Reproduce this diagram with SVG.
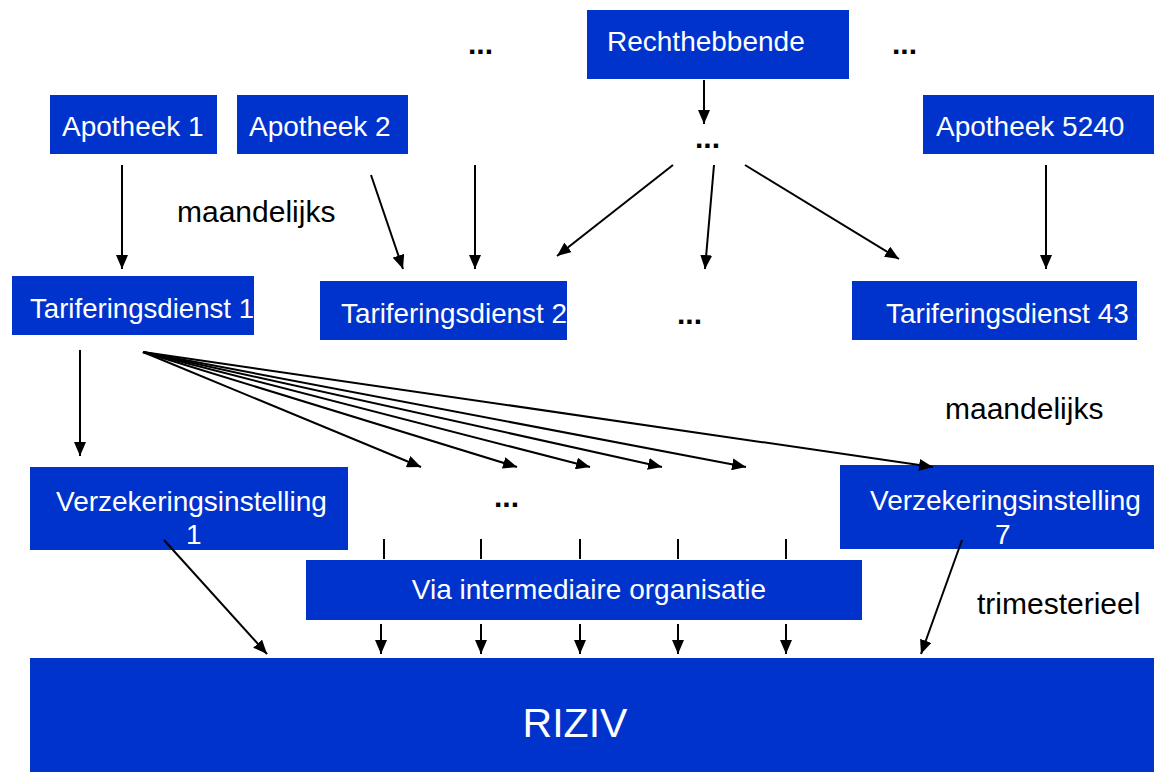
<svg xmlns="http://www.w3.org/2000/svg" width="1154" height="772" viewBox="0 0 1154 772">
<style>
.box{fill:#0033cc;}
.bt{fill:#ffffff;font-family:"Liberation Sans",Arial,sans-serif;font-size:28px;}
.lbl{fill:#000000;font-family:"Liberation Sans",Arial,sans-serif;font-size:30px;}
.dots{fill:#000000;font-family:"Liberation Sans",Arial,sans-serif;font-size:30px;font-weight:bold;}
.c{stroke:#000000;stroke-width:2;fill:none;}
</style>
<defs>
<marker id="ah" viewBox="0 0 14 12" refX="14" refY="6" markerWidth="14" markerHeight="12" markerUnits="userSpaceOnUse" orient="auto">
<path d="M0,0 L14,6 L0,12 z" fill="#000000"/>
</marker>
</defs>
<rect width="1154" height="772" fill="#ffffff"/>

<g id="rechthebbende"><rect class="box" x="587" y="10" width="262" height="69"/><text class="bt" x="607" y="51">Rechthebbende</text></g>
<g id="apotheek1"><rect class="box" x="50" y="95" width="167" height="59"/><text class="bt" x="62" y="136">Apotheek 1</text></g>
<g id="apotheek2"><rect class="box" x="237" y="95" width="171" height="59"/><text class="bt" x="249" y="136">Apotheek 2</text></g>
<g id="apotheek5240"><rect class="box" x="923" y="95" width="231" height="59"/><text class="bt" x="936" y="136">Apotheek 5240</text></g>
<g id="tarif1"><rect class="box" x="12" y="276" width="242" height="59"/><text class="bt" x="30" y="318" textLength="224" lengthAdjust="spacingAndGlyphs">Tariferingsdienst 1</text></g>
<g id="tarif2"><rect class="box" x="320" y="281" width="247" height="59"/><text class="bt" x="341" y="323" textLength="226" lengthAdjust="spacingAndGlyphs">Tariferingsdienst 2</text></g>
<g id="tarif43"><rect class="box" x="852" y="281" width="285" height="59"/><text class="bt" x="886" y="323">Tariferingsdienst 43</text></g>
<g id="verz1"><rect class="box" x="30" y="467" width="318" height="83"/><text class="bt" x="56" y="511">Verzekeringsinstelling</text><text class="bt" x="186" y="544">1</text></g>
<g id="verz7"><rect class="box" x="840" y="465" width="314" height="84"/><text class="bt" x="870" y="510">Verzekeringsinstelling</text><text class="bt" x="995" y="544">7</text></g>
<g id="via"><rect class="box" x="306" y="560" width="556" height="60"/><text class="bt" x="589" y="599" text-anchor="middle">Via intermediaire organisatie</text></g>
<g id="riziv"><rect class="box" x="30" y="658" width="1124" height="114"/><text class="bt" x="575" y="737" text-anchor="middle" style="font-size:41px">RIZIV</text></g>

<g id="labels">
<text class="dots" x="468" y="54">...</text>
<text class="dots" x="892" y="54">...</text>
<text class="dots" x="695" y="148">...</text>
<text class="dots" x="677" y="324">...</text>
<text class="dots" x="494" y="507">...</text>
<text class="lbl" x="177" y="222">maandelijks</text>
<text class="lbl" x="945" y="419">maandelijks</text>
<text class="lbl" x="977" y="614">trimesterieel</text>
</g>

<g id="connectors">
<line class="c" x1="704" y1="80" x2="704" y2="124" marker-end="url(#ah)"/>
<line class="c" x1="122" y1="165" x2="122" y2="269" marker-end="url(#ah)"/>
<line class="c" x1="371" y1="175" x2="403" y2="269" marker-end="url(#ah)"/>
<line class="c" x1="475" y1="165" x2="475" y2="269" marker-end="url(#ah)"/>
<line class="c" x1="673" y1="165" x2="557" y2="256" marker-end="url(#ah)"/>
<line class="c" x1="714" y1="165" x2="705" y2="269" marker-end="url(#ah)"/>
<line class="c" x1="745" y1="165" x2="899" y2="259" marker-end="url(#ah)"/>
<line class="c" x1="1046" y1="165" x2="1046" y2="269" marker-end="url(#ah)"/>
<line class="c" x1="80" y1="350" x2="80" y2="456" marker-end="url(#ah)"/>
<line class="c" x1="143" y1="352" x2="421" y2="467" marker-end="url(#ah)"/>
<line class="c" x1="143" y1="352" x2="517" y2="467" marker-end="url(#ah)"/>
<line class="c" x1="143" y1="352" x2="590" y2="467" marker-end="url(#ah)"/>
<line class="c" x1="143" y1="352" x2="662" y2="467" marker-end="url(#ah)"/>
<line class="c" x1="143" y1="352" x2="746" y2="467" marker-end="url(#ah)"/>
<line class="c" x1="143" y1="352" x2="933" y2="467" marker-end="url(#ah)"/>
<line class="c" x1="384" y1="539" x2="384" y2="559"/>
<line class="c" x1="481" y1="539" x2="481" y2="559"/>
<line class="c" x1="580" y1="539" x2="580" y2="559"/>
<line class="c" x1="678" y1="539" x2="678" y2="559"/>
<line class="c" x1="786" y1="539" x2="786" y2="559"/>
<line class="c" x1="381" y1="624" x2="381" y2="654" marker-end="url(#ah)"/>
<line class="c" x1="481" y1="624" x2="481" y2="654" marker-end="url(#ah)"/>
<line class="c" x1="580" y1="624" x2="580" y2="654" marker-end="url(#ah)"/>
<line class="c" x1="678" y1="624" x2="678" y2="654" marker-end="url(#ah)"/>
<line class="c" x1="786" y1="624" x2="786" y2="654" marker-end="url(#ah)"/>
<line class="c" x1="164" y1="540" x2="267" y2="654" marker-end="url(#ah)"/>
<line class="c" x1="962" y1="540" x2="921" y2="654" marker-end="url(#ah)"/>
</g>
</svg>
